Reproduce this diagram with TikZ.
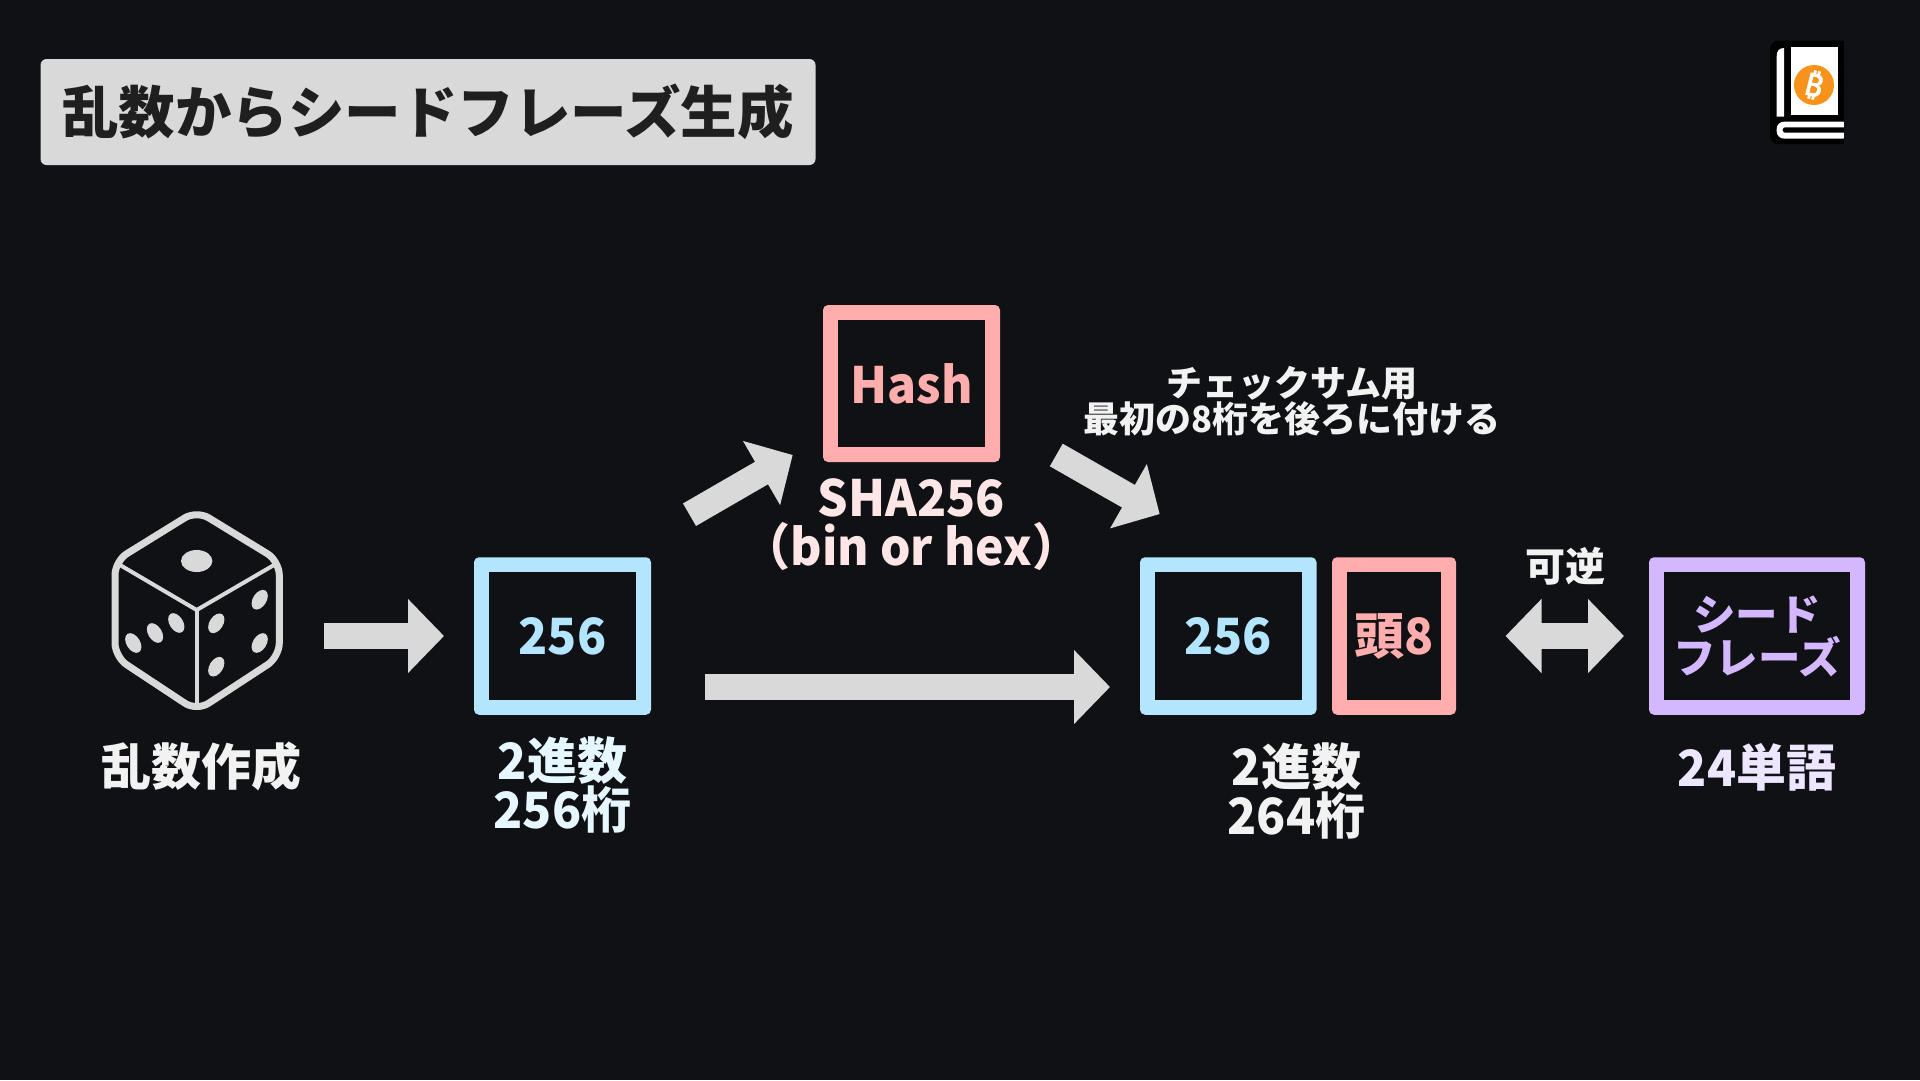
\documentclass[tikz,border=0pt]{standalone}
\usepackage{fontspec}
\setmainfont{Noto Sans CJK JP}
\newfontfamily\latfont{Noto Sans CJK JP}[BoldFeatures={FakeStretch=0.96}]
\newfontfamily\btcfont{Noto Sans}[FakeBold=2.5]
\newcommand{\lat}[1]{{\latfont\bfseries #1}}
\usetikzlibrary{arrows.meta,calc}
\definecolor{bg}{HTML}{0F1114}
\definecolor{arrowgrey}{HTML}{D9D9D9}
\definecolor{blueC}{HTML}{B3E5FF}
\definecolor{pinkC}{HTML}{FFADAD}
\definecolor{purpleC}{HTML}{D4B8FF}
\definecolor{lightblue}{HTML}{E6F7FF}
\definecolor{lightpink}{HTML}{FFE6E6}
\definecolor{lightpurple}{HTML}{EEE6FF}
\definecolor{whiteish}{HTML}{F2F2F2}
\definecolor{coinC}{HTML}{F7931A}
\tikzset{
  x=1pt,y=-1pt,
  cbox/.style={draw=none,fill=#1,rounded corners=5pt,outer sep=0pt,inner sep=0pt,text=#1,
    font=\fontsize{50}{50}\selectfont\bfseries,
    path picture={\fill[bg,sharp corners] ([shift={(15pt,15pt)}]path picture bounding box.south west) rectangle ([shift={(-15pt,-15pt)}]path picture bounding box.north east);}},
  flow/.style={draw=arrowgrey,line width=26pt,arrows={-{Triangle[length=36pt,width=72pt]}}},
  flowboth/.style={draw=arrowgrey,line width=26pt,arrows={{Triangle[length=36pt,width=72pt]}-{Triangle[length=36pt,width=72pt]}}},
  lab/.style={align=center,inner sep=0pt,font=\fontsize{50}{49}\selectfont\bfseries},
  dicepip/.style={fill=arrowgrey},
}
\begin{document}
\begin{tikzpicture}
\useasboundingbox (0,0) rectangle (1920,1080);
\fill[bg] (0,0) rectangle (1920,1080);
% title
\node[fill=arrowgrey,rounded corners=6pt,minimum width=775pt,minimum height=106pt,inner sep=0pt,text=black!88,font=\fontsize{56.5}{56.5}\selectfont\bfseries] (title) at (428,112) {乱数からシードフレーズ生成};
% book icon
\fill[black,rounded corners=8pt] (1770,40.7) rectangle (1860,144);
\fill[bg] (1844,30) rectangle (1870,150);
\fill[white] (1776.7,116.7) -- (1776.7,56) .. controls (1776.7,51) and (1779,48) .. (1784,48) -- (1784,116.7) -- cycle;
\fill[white] (1790.7,47.3) rectangle (1838,115);
\fill[white,rounded corners=7pt] (1850,121.7) -- (1776.7,121.7) -- (1776.7,138.5) -- (1850,138.5) -- cycle;
\fill[black,rounded corners=2.5pt] (1850,127.3) -- (1782.7,127.3) -- (1782.7,132.7) -- (1850,132.7) -- cycle;
\fill[bg] (1844,120) rectangle (1852,140);
\node[circle,fill=coinC,minimum size=40pt,inner sep=0pt] (coin) at (1814,85) {};
\node[text=white,rotate=-14,inner sep=0pt,font=\fontsize{31}{31}\selectfont\btcfont] (btc) at (coin) {₿};
% dice
\draw[arrowgrey,line width=7pt,rounded corners=14pt] (196.7,510.5) -- (279.3,561) -- (279.3,657) -- (196.7,711) -- (115,657) -- (115,561) -- cycle;
\draw[arrowgrey,line width=4pt,line join=miter] (120,565) -- (196.7,610) -- (274,565);
\draw[arrowgrey,line width=4pt] (196.7,610) -- (196.7,703);
\fill[dicepip] (196.7,561) ellipse [x radius=15.7pt,y radius=11pt];
\foreach \px/\py in {133.3/643,155/633,176.3/623}
  \fill[dicepip,rotate around={-58:(\px,\py)}] (\px,\py) ellipse [x radius=10.8pt,y radius=6.8pt];
\foreach \px/\py in {216.3/623.3,216.3/666.7,259.7/599.7,259.7/643}
  \fill[dicepip,rotate around={58:(\px,\py)}] (\px,\py) ellipse [x radius=10.8pt,y radius=6.8pt];
% boxes
\node[cbox=blueC,minimum width=177pt,minimum height=157.5pt] (blueA) at (562.5,636) {\lat{256}};
\node[cbox=pinkC,minimum width=177pt,minimum height=157pt] (hash) at (911.5,383.5) {\lat{Hash}};
\node[cbox=blueC,minimum width=176.5pt,minimum height=157.5pt] (blueB) at (1228.25,636) {\lat{256}};
\node[cbox=pinkC,minimum width=124pt,minimum height=157.5pt] (pink) at (1394,636) {頭\lat{8}};
\node[cbox=purpleC,minimum width=216pt,minimum height=157.5pt,align=center,font=\fontsize{42.5}{43}\selectfont\bfseries] (purple) at (1757,636) {シード\\フレーズ};
% labels
\node[lab,text=whiteish] (l1) at (201.3,766) {乱数作成};
\node[lab,text=lightblue] (l2) at (562.5,785) {\lat{2}進数\\\lat{256}桁};
\node[lab,text=lightpink] (l3) at (911.5,525) {\lat{SHA256}\\\lat{（bin or hex）}};
\node[lab,text=whiteish] (l4) at (1296.5,791) {\lat{2}進数\\\lat{264}桁};
\node[lab,text=lightpurple] (l5) at (1757,767) {\lat{24}単語};
\node[lab,text=whiteish,font=\fontsize{36}{36}\selectfont\bfseries] (l6) at (1292,401) {チェックサム用\\最初の\lat{8}桁を後ろに付ける};
\node[lab,text=whiteish,font=\fontsize{40}{40}\selectfont\bfseries] (l7) at (1565,566) {可逆};
% connectors
\draw[flow] ([xshift=-150pt]blueA.west) -- ([xshift=-30pt]blueA.west);
\draw[flow] ([shift={(54pt,-51pt)}]blueA.east) -- ([shift={(-30pt,-51pt)}]blueB.west);
\draw[flow] ([shift={(-133.5pt,-52.7pt)}]hash.south west) -- ([shift={(-30.3pt,7pt)}]hash.south west);
\draw[flow] ([shift={(56.3pt,7pt)}]hash.south east) -- ([shift={(19.7pt,43.2pt)}]blueB.north west);
\draw[flowboth] ([xshift=49.5pt]pink.east) -- ([xshift=-25pt]purple.west);
\end{tikzpicture}
\end{document}
